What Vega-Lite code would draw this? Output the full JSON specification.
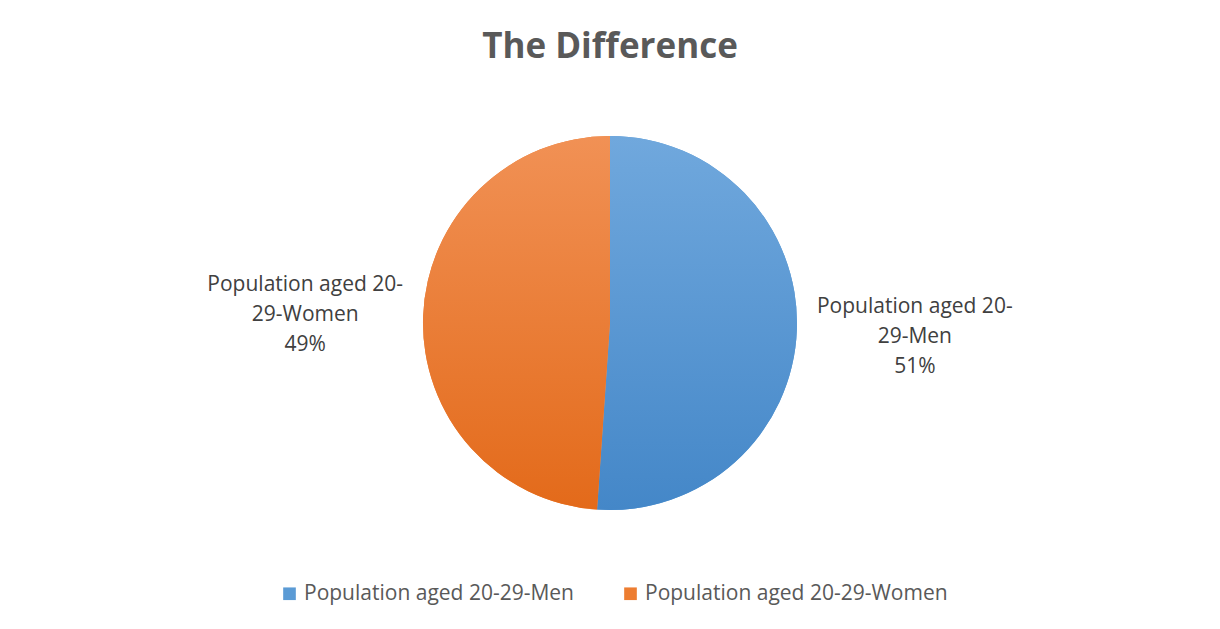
{
  "$schema": "https://vega.github.io/schema/vega-lite/v6.json",
  "width": 1220,
  "height": 496,
  "padding": {"top": 30, "left": 0, "right": 0, "bottom": 58},
  "autosize": {"type": "pad"},
  "background": "#ffffff",
  "config": {"view": {"stroke": null}, "font": "Open Sans"},
  "title": {
    "text": "The Difference",
    "fontSize": 35,
    "fontWeight": "bold",
    "color": "#595959",
    "font": "Open Sans",
    "anchor": "middle",
    "offset": 10
  },
  "data": {
    "values": [
      {"cat": "Population aged 20-29-Men", "share": 51.1, "label": "Population aged 20-\n29-Men\n51%"},
      {"cat": "Population aged 20-29-Women", "share": 48.9, "label": "Population aged 20-\n29-Women\n49%"}
    ]
  },
  "encoding": {
    "theta": {"field": "share", "type": "quantitative", "stack": true}
  },
  "layer": [
    {
      "mark": {"type": "arc", "radius": 187},
      "encoding": {
        "color": {
          "field": "cat",
          "type": "nominal",
          "scale": {
            "domain": ["Population aged 20-29-Men", "Population aged 20-29-Women"],
            "range": ["#5B9BD5", "#ED7D31"]
          },
          "legend": {
            "title": null,
            "orient": "none",
            "legendX": 279,
            "legendY": 508,
            "direction": "horizontal",
            "symbolType": "square",
            "symbolSize": 160,
            "symbolStrokeWidth": 0,
            "labelFontSize": 21,
            "labelColor": "#595959",
            "labelFont": "Open Sans",
            "labelLimit": 400,
            "columnPadding": 46
          }
        }
      }
    },
    {
      "mark": {"type": "arc", "radius": 187},
      "encoding": {
        "detail": {"field": "cat", "type": "nominal"},
        "fill": {
          "condition": {
            "test": "datum.cat === 'Population aged 20-29-Men'",
            "value": {
              "gradient": "linear", "x1": 0, "y1": 0, "x2": 0, "y2": 1,
              "stops": [{"offset": 0, "color": "#70A8DD"}, {"offset": 1, "color": "#4487C8"}]
            }
          },
          "value": {
            "gradient": "linear", "x1": 0, "y1": 0, "x2": 0, "y2": 1,
            "stops": [{"offset": 0, "color": "#F19155"}, {"offset": 1, "color": "#E36A1A"}]
          }
        }
      }
    },
    {
      "mark": {
        "type": "text",
        "radius": 305,
        "fontSize": 21,
        "font": "Open Sans",
        "color": "#404040",
        "align": "center",
        "baseline": "middle",
        "lineBreak": "\n",
        "lineHeight": 30,
        "dy": -27
      },
      "encoding": {
        "detail": {"field": "cat", "type": "nominal"},
        "text": {"field": "label", "type": "nominal"}
      }
    }
  ]
}
